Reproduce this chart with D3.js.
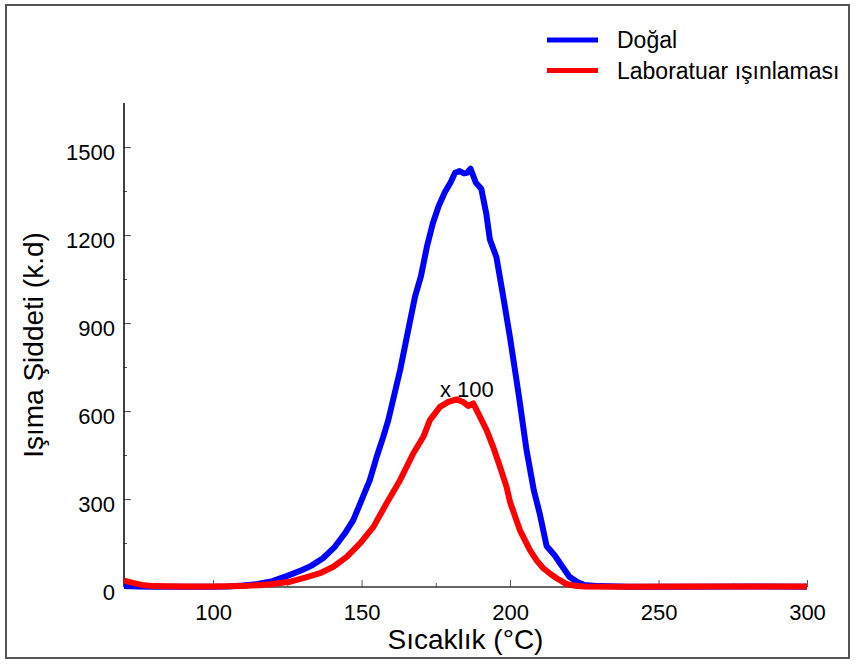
<!DOCTYPE html>
<html>
<head>
<meta charset="utf-8">
<script src="https://cdn.jsdelivr.net/npm/d3@7"></script>
<style>
    body { margin: 0; background: #fff; }
    svg text { font-family: "Liberation Sans", Arial, sans-serif; fill: #000; }
</style>
</head>
<body>
<script>
// Doğal (natural) glow curve: temperature (°C) and intensity (k.d)
var dogalT = [70, 75, 80, 90, 100, 105, 110, 115, 120, 125, 130, 133, 137, 141, 144.4, 147.2, 150, 152.8, 155.1, 157.3,
    159, 163, 166, 168, 170, 172, 174, 176, 178, 180, 181.5, 183, 184.5, 185.5, 186.7, 188.5, 190.3, 192, 193.2,
    195.4, 197.7, 200, 203, 205.5, 208, 210, 212.3, 215, 218, 220, 222.5, 225, 230, 240, 260, 280, 300];
var dogalV = [3, 2, 1, 1, 1, 2, 5, 10, 20, 38, 58, 72, 98, 137, 183, 228, 296, 365, 444, 512,
    569, 740, 890, 990, 1060, 1160, 1240, 1300, 1345, 1380, 1412, 1418, 1410, 1412, 1426, 1378, 1358, 1273, 1185,
    1125, 990, 850, 650, 470, 330, 250, 140, 108, 64, 35, 18, 7, 3, 1, 1, 2, 1];

// Laboratuar ışınlaması (x 100)
var labT = [70, 73, 76, 80, 90, 100, 110, 115, 120, 126, 131, 136, 140.5, 145, 149.5, 154, 158.4, 163, 167.4,
    170.8, 173, 176.4, 179.2, 182, 184.2, 185.9, 187.6, 189.3, 192.1, 194.3,
    196.6, 198.8, 200, 203.3, 205, 206.7, 209, 211.2, 213.5, 215.7, 219, 222, 225, 240, 260, 280, 300];
var labV = [22, 14, 7, 3, 2, 2, 3, 6, 10, 18, 32, 47, 69, 103, 149, 205, 285, 365, 455,
    512, 569, 614, 631, 640, 631, 617, 626, 592, 535, 478,
    410, 342, 290, 194, 160, 126, 90, 64, 45, 30, 10, 4, 2, 1, 2, 2, 2];

var seriesNames = ["Doğal", "Laboratuar ışınlaması"];
var seriesColors = ["#0000ff", "#ff0000"];

var xTicks = [100, 150, 200, 250, 300];
var xMinor = [75, 125, 175, 225, 275];
var yTicks = [0, 300, 600, 900, 1200, 1500];
var yMinor = [150, 450, 750, 1050, 1350];

var W = 854, H = 664;
var plot = { left: 124, right: 807, top: 103, bottom: 587 };

var svg = d3.select("body").append("svg")
    .attr("width", W)
    .attr("height", H);

// outer frame
svg.append("rect")
    .attr("x", 6).attr("y", 5)
    .attr("width", 843).attr("height", 653)
    .attr("fill", "none")
    .attr("stroke", "#555")
    .attr("stroke-width", 2);

var x = d3.scaleLinear().domain([70, 300]).range([plot.left, plot.right]);
var y = d3.scaleLinear().domain([0, 1650]).range([plot.bottom, plot.top]);

// minor ticks (no labels)
svg.append("g")
    .attr("transform", "translate(0," + plot.bottom + ")")
    .call(d3.axisBottom(x).tickValues(xMinor).tickSize(-4).tickFormat(""))
    .call(g => g.select(".domain").remove())
    .selectAll("line").attr("stroke", "#555");
svg.append("g")
    .attr("transform", "translate(" + plot.left + ",0)")
    .call(d3.axisLeft(y).tickValues(yMinor).tickSize(-3).tickFormat(""))
    .call(g => g.select(".domain").remove())
    .selectAll("line").attr("stroke", "#555");

// major ticks
var xAxis = svg.append("g")
    .attr("transform", "translate(0," + plot.bottom + ")")
    .call(d3.axisBottom(x).tickValues(xTicks).tickSize(-7).tickPadding(17).tickFormat(d3.format("d")));
xAxis.select(".domain").remove();
xAxis.selectAll("line").attr("stroke", "#555");
xAxis.selectAll("text").style("font-size", "22px").attr("fill", "#000");

var yAxis = svg.append("g")
    .attr("transform", "translate(" + plot.left + ",0)")
    .call(d3.axisLeft(y).tickValues(yTicks).tickSize(-7).tickPadding(9).tickFormat(d3.format("d")));
yAxis.select(".domain").remove();
yAxis.selectAll("line").attr("stroke", "#555");
yAxis.selectAll("text").style("font-size", "22px").attr("fill", "#000").attr("dy", "0.57em");

// axis lines
svg.append("line")
    .attr("x1", plot.left).attr("x2", plot.left)
    .attr("y1", plot.top).attr("y2", plot.bottom)
    .attr("stroke", "#000").attr("stroke-width", 1.5);
svg.append("line")
    .attr("x1", plot.left).attr("x2", plot.right)
    .attr("y1", plot.bottom).attr("y2", plot.bottom)
    .attr("stroke", "#333").attr("stroke-width", 1.5);

// curves
var line = d3.line()
    .x(d => x(d[0]))
    .y(d => y(d[1]));

var series = [d3.zip(dogalT, dogalV), d3.zip(labT, labV)];
series.forEach((s, i) => {
    svg.append("path")
        .datum(s)
        .attr("d", line)
        .attr("fill", "none")
        .attr("stroke", seriesColors[i])
        .attr("stroke-width", 6)
        .attr("stroke-linejoin", "round")
        .attr("stroke-linecap", "butt");
});

// scale note on the red peak
svg.append("text")
    .attr("x", x(176.4))
    .attr("y", y(647))
    .style("font-size", "22px")
    .text("x 100");

// axis titles
svg.append("text")
    .attr("x", (plot.left + plot.right) / 2)
    .attr("y", 649)
    .attr("text-anchor", "middle")
    .style("font-size", "28px")
    .text("Sıcaklık (°C)");

svg.append("text")
    .attr("transform", "translate(43," + (plot.top + plot.bottom) / 2 + ") rotate(-90)")
    .attr("text-anchor", "middle")
    .style("font-size", "28px")
    .text("Işıma Şiddeti (k.d)");

// legend
var legend = svg.append("g");
seriesNames.forEach((name, i) => {
    var ly = 40 + i * 30.5;
    legend.append("line")
        .attr("x1", 547).attr("x2", 598)
        .attr("y1", ly).attr("y2", ly)
        .attr("stroke", seriesColors[i])
        .attr("stroke-width", 5);
    legend.append("text")
        .attr("x", 617)
        .attr("y", ly + 8)
        .style("font-size", "23px")
        .text(name);
});
</script>
</body>
</html>
